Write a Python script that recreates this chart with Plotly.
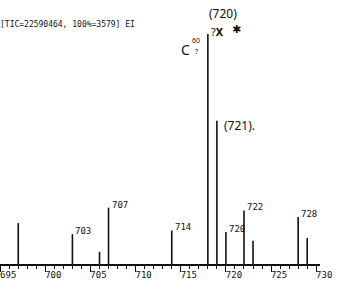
import plotly.graph_objects as go

# ---- data ----
mz = [697, 703, 706, 707, 714, 718, 719, 720, 722, 723, 728, 729]
intensity = [17.8, 13.0, 5.3, 24.5, 14.6, 100.0, 62.3, 13.9, 23.3, 10.1, 20.4, 11.3]
labelled_mz = [703, 707, 714, 720, 722, 728]
tick_vals = [695, 700, 705, 710, 715, 720, 725, 730]
tick_text = ["695", "700", "705", "710", "715", "720", "725", "730"]
header = "[TIC=22590464, 100%=3579] EI"

# stick spectrum built from the data arrays
xs, ys = [], []
for m, v in zip(mz, intensity):
    xs += [m, m, None]
    ys += [0, v, None]

fig = go.Figure()
fig.add_trace(go.Scatter(x=xs, y=ys, mode="lines",
                         line=dict(color="#111111", width=1.6),
                         hoverinfo="skip", showlegend=False))

MONO = "DejaVu Sans Mono"
HAND = "Noto Sans"

# printed peak labels
for m, v in zip(mz, intensity):
    if m in labelled_mz:
        fig.add_annotation(x=m, y=v, text=str(m), showarrow=False,
                           xanchor="left", yanchor="middle", xshift=1, yshift=3,
                           font=dict(family=MONO, size=9, color="#111111"))

# header line
fig.add_annotation(xref="paper", yref="paper", x=0, y=0.909, xshift=-2,
                   text=header, showarrow=False, xanchor="left", yanchor="middle",
                   font=dict(family=MONO, size=8, color="#111111"))

# handwritten notes
hand = dict(family=HAND, color="#111111")
fig.add_annotation(x=718, y=109.0, text="(720)", showarrow=False,
                   xanchor="left", yanchor="middle", xshift=-1,
                   font=dict(size=12, **hand))
fig.add_annotation(x=719, y=60.2, text="(721).", showarrow=False,
                   xanchor="left", yanchor="middle", xshift=5,
                   font=dict(size=12, **hand))
fig.add_annotation(x=718, y=93.2, text="C", showarrow=False,
                   xanchor="right", yanchor="middle", xshift=-16,
                   font=dict(size=14, **hand))
fig.add_annotation(x=718, y=97.2, text="60", showarrow=False,
                   xanchor="right", yanchor="middle", xshift=-6,
                   font=dict(size=7, **hand))
fig.add_annotation(x=718, y=92.4, text="?", showarrow=False,
                   xanchor="right", yanchor="middle", xshift=-8,
                   font=dict(size=7, **hand))
fig.add_annotation(x=718, y=100.9, text="?<b>X</b>", showarrow=False,
                   xanchor="left", yanchor="middle", xshift=1,
                   font=dict(size=11, **hand))
fig.add_annotation(x=718, y=101.8, text="✱", showarrow=False,
                   xanchor="left", yanchor="middle", xshift=22,
                   font=dict(size=11, family="DejaVu Sans", color="#111111"))

x0 = 694.98
px_per_unit = 9.03
plot_w = 320
fig.update_layout(
    width=340, height=282,
    margin=dict(l=0, r=340 - plot_w, t=0, b=18),
    paper_bgcolor="white", plot_bgcolor="white",
    xaxis=dict(range=[x0, x0 + plot_w / px_per_unit],
               tickvals=tick_vals, ticktext=tick_text,
               ticks="outside", ticklen=6, tickwidth=1.3, tickcolor="#111111",
               showline=True, linecolor="#111111", linewidth=1.5,
               showgrid=False, zeroline=False,
               ticklabelshift=8, ticklabelstandoff=-5,
               tickfont=dict(family=MONO, size=9, color="#111111"),
               minor=dict(dtick=1, tick0=695, ticks="outside", ticklen=3,
                          tickwidth=1, tickcolor="#111111", showgrid=False)),
    yaxis=dict(range=[0, 264 / 2.3], visible=False, showgrid=False, zeroline=False),
)

fig.write_html("out.html")
